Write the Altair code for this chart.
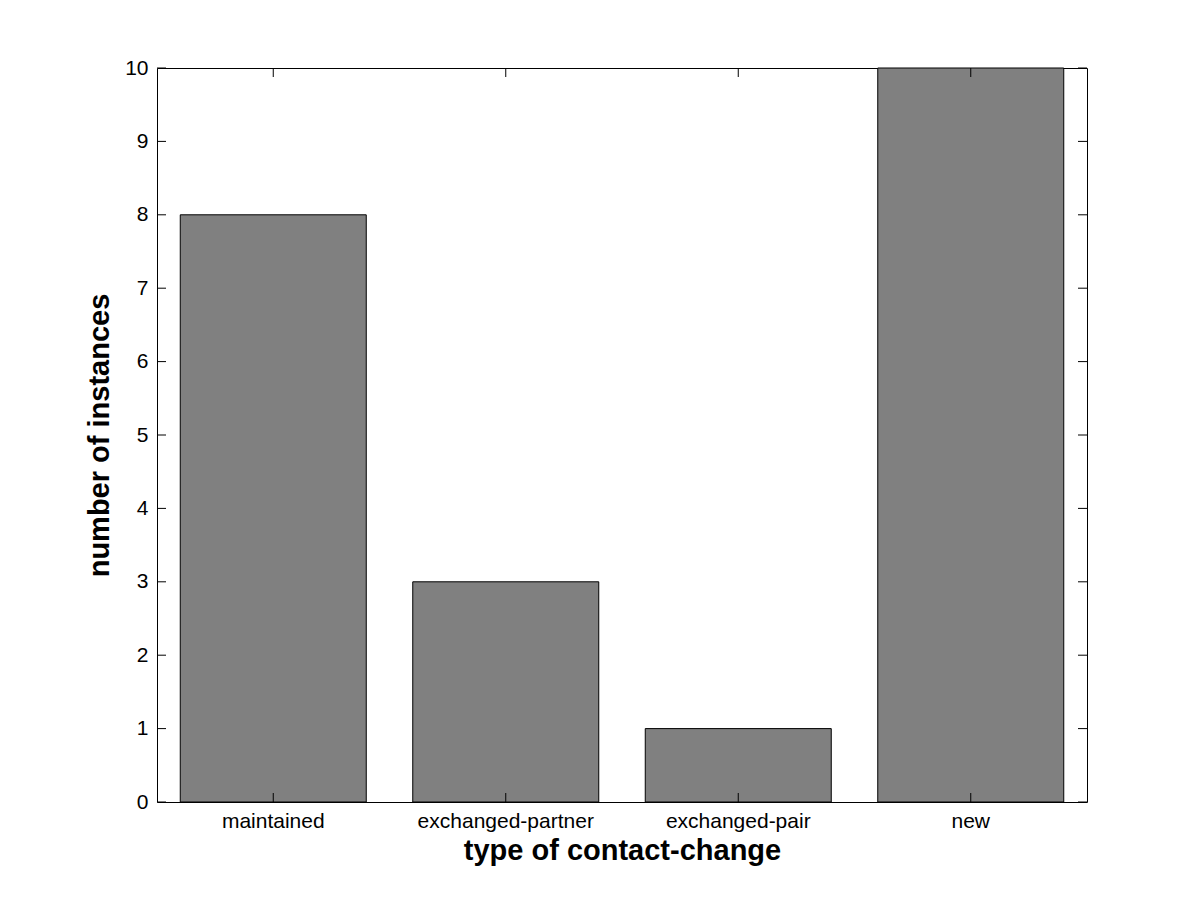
import altair as alt
import pandas as pd

categories = ["maintained", "exchanged-partner", "exchanged-pair", "new"]
counts = [8, 3, 1, 10]
y_ticks = list(range(0, 11))

W, H = 930, 734
FONT = "Liberation Sans"

bars_df = pd.DataFrame({"type": categories, "count": counts})
yt_df = pd.DataFrame({"v": y_ticks})
xt_df = pd.DataFrame({"type": categories})

xscale = alt.Scale(domain=categories, paddingInner=0.2, paddingOuter=0.1)
yscale = alt.Scale(domain=[0, 10], nice=False)

bars = alt.Chart(bars_df).mark_bar(color="#808080", stroke="black", strokeWidth=1).encode(
    x=alt.X("type:N", scale=xscale, sort=categories,
            axis=alt.Axis(title="type of contact-change", labelAngle=0, ticks=False, domain=False,
                          labelFont=FONT, labelFontSize=21, labelColor="black", labelPadding=8,
                          titleFont=FONT, titleFontSize=29, titleFontWeight="bold", titleColor="black",
                          titlePadding=5)),
    y=alt.Y("count:Q", scale=yscale,
            axis=alt.Axis(title="number of instances", values=y_ticks, format="d", ticks=False,
                          domain=False, grid=False,
                          labelFont=FONT, labelFontSize=21, labelColor="black", labelPadding=9,
                          titleFont=FONT, titleFontSize=29, titleFontWeight="bold", titleColor="black",
                          titlePadding=10)),
)

tl = alt.Chart(yt_df).mark_rule(color="black", strokeWidth=1).encode(
    y=alt.Y("v:Q", scale=yscale), x=alt.value(0), x2=alt.value(9))
tr = alt.Chart(yt_df).mark_rule(color="black", strokeWidth=1).encode(
    y=alt.Y("v:Q", scale=yscale), x=alt.value(W - 9), x2=alt.value(W))
tt = alt.Chart(xt_df).mark_rule(color="black", strokeWidth=1).encode(
    x=alt.X("type:N", scale=xscale, sort=categories), y=alt.value(0), y2=alt.value(9))
tb = alt.Chart(xt_df).mark_rule(color="black", strokeWidth=1).encode(
    x=alt.X("type:N", scale=xscale, sort=categories), y=alt.value(H - 9), y2=alt.value(H))

chart = alt.layer(bars, tl, tr, tt, tb).properties(
    width=W, height=H,
    autosize=alt.AutoSizeParams(type="none"),
    padding={"left": 149, "top": 60, "right": 100, "bottom": 90},
    background="white",
).configure_view(stroke="black", strokeWidth=1)

chart.save("out.html", embed_options={"renderer": "svg", "actions": False})
